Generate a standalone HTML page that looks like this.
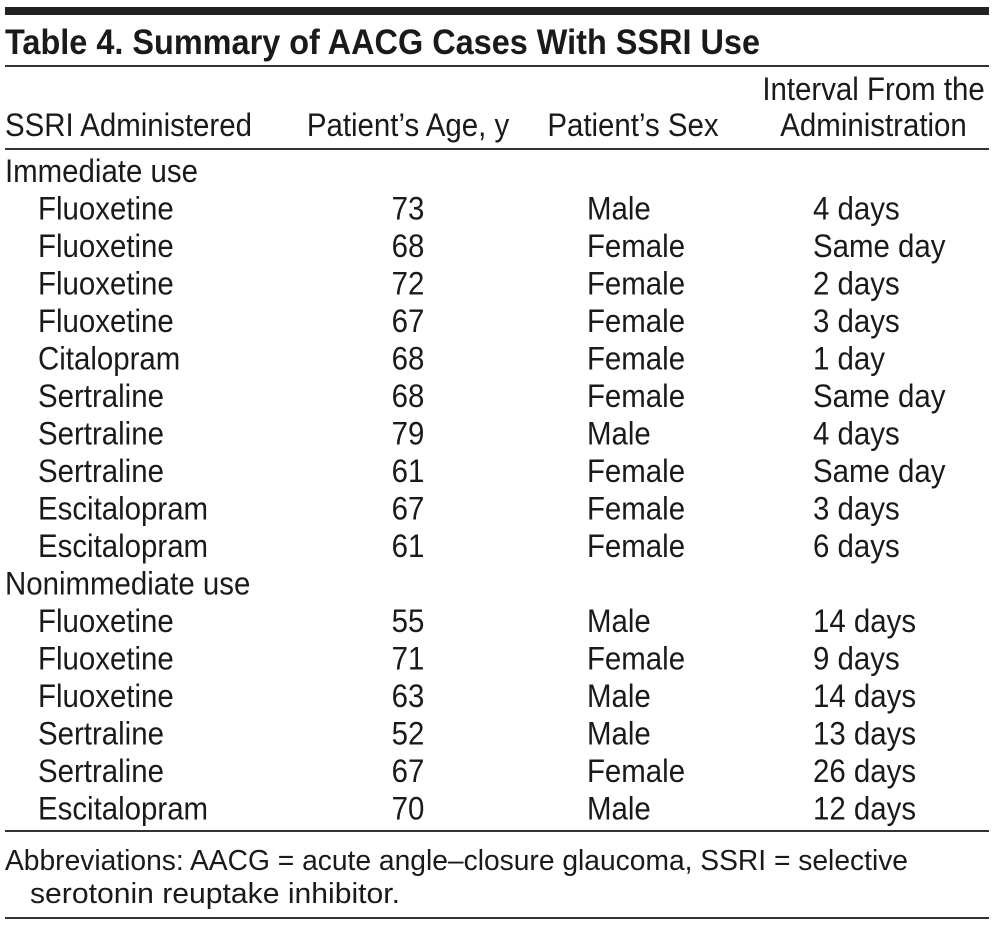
<!DOCTYPE html>
<html><head><meta charset="utf-8"><style>
html,body{margin:0;padding:0;background:#fff;width:994px;height:929px;overflow:hidden}
svg text{font-family:"Liberation Sans",sans-serif;fill:#1a1a1a}
</style></head><body>
<svg width="994" height="929" viewBox="0 0 994 929" xmlns="http://www.w3.org/2000/svg">
<rect x="5" y="7" width="984" height="8" fill="#222"/>
<rect x="5" y="65" width="984" height="2" fill="#333"/>
<rect x="5" y="148" width="984" height="2" fill="#333"/>
<rect x="5" y="830" width="984" height="2" fill="#333"/>
<rect x="5" y="917" width="984" height="2" fill="#333"/>
<text x="5" y="54" font-size="35" font-weight="bold" textLength="755" lengthAdjust="spacingAndGlyphs">Table 4. Summary of AACG Cases With SSRI Use</text>
<g transform="scale(0.92,1)" font-size="32">
<text x="5.4" y="136">SSRI Administered</text>
<text x="443.5" y="136" text-anchor="middle">Patient’s Age, y</text>
<text x="688" y="136" text-anchor="middle">Patient’s Sex</text>
<text x="949.5" y="100" text-anchor="middle">Interval From the</text>
<text x="949.5" y="136" text-anchor="middle">Administration</text>
<text x="5.4" y="182">Immediate use</text>
<text x="5.4" y="594.5">Nonimmediate use</text>
</g>
<g transform="scale(0.92,1)" font-size="32">
<text x="41.3" y="219.5">Fluoxetine</text><text x="443.5" y="219.5" text-anchor="middle">73</text><text x="638" y="219.5">Male</text><text x="883.7" y="219.5">4 days</text>
<text x="41.3" y="257">Fluoxetine</text><text x="443.5" y="257" text-anchor="middle">68</text><text x="638" y="257">Female</text><text x="883.7" y="257">Same day</text>
<text x="41.3" y="294.5">Fluoxetine</text><text x="443.5" y="294.5" text-anchor="middle">72</text><text x="638" y="294.5">Female</text><text x="883.7" y="294.5">2 days</text>
<text x="41.3" y="332">Fluoxetine</text><text x="443.5" y="332" text-anchor="middle">67</text><text x="638" y="332">Female</text><text x="883.7" y="332">3 days</text>
<text x="41.3" y="369.5">Citalopram</text><text x="443.5" y="369.5" text-anchor="middle">68</text><text x="638" y="369.5">Female</text><text x="883.7" y="369.5">1 day</text>
<text x="41.3" y="407">Sertraline</text><text x="443.5" y="407" text-anchor="middle">68</text><text x="638" y="407">Female</text><text x="883.7" y="407">Same day</text>
<text x="41.3" y="444.5">Sertraline</text><text x="443.5" y="444.5" text-anchor="middle">79</text><text x="638" y="444.5">Male</text><text x="883.7" y="444.5">4 days</text>
<text x="41.3" y="482">Sertraline</text><text x="443.5" y="482" text-anchor="middle">61</text><text x="638" y="482">Female</text><text x="883.7" y="482">Same day</text>
<text x="41.3" y="519.5">Escitalopram</text><text x="443.5" y="519.5" text-anchor="middle">67</text><text x="638" y="519.5">Female</text><text x="883.7" y="519.5">3 days</text>
<text x="41.3" y="557">Escitalopram</text><text x="443.5" y="557" text-anchor="middle">61</text><text x="638" y="557">Female</text><text x="883.7" y="557">6 days</text>
<text x="41.3" y="632">Fluoxetine</text><text x="443.5" y="632" text-anchor="middle">55</text><text x="638" y="632">Male</text><text x="883.7" y="632">14 days</text>
<text x="41.3" y="669.5">Fluoxetine</text><text x="443.5" y="669.5" text-anchor="middle">71</text><text x="638" y="669.5">Female</text><text x="883.7" y="669.5">9 days</text>
<text x="41.3" y="707">Fluoxetine</text><text x="443.5" y="707" text-anchor="middle">63</text><text x="638" y="707">Male</text><text x="883.7" y="707">14 days</text>
<text x="41.3" y="744.5">Sertraline</text><text x="443.5" y="744.5" text-anchor="middle">52</text><text x="638" y="744.5">Male</text><text x="883.7" y="744.5">13 days</text>
<text x="41.3" y="782">Sertraline</text><text x="443.5" y="782" text-anchor="middle">67</text><text x="638" y="782">Female</text><text x="883.7" y="782">26 days</text>
<text x="41.3" y="819.5">Escitalopram</text><text x="443.5" y="819.5" text-anchor="middle">70</text><text x="638" y="819.5">Male</text><text x="883.7" y="819.5">12 days</text>
</g>
<text x="5" y="870" font-size="29" textLength="903" lengthAdjust="spacingAndGlyphs">Abbreviations: AACG = acute angle–closure glaucoma, SSRI = selective</text>
<text x="30" y="903" font-size="29" textLength="370" lengthAdjust="spacingAndGlyphs">serotonin reuptake inhibitor.</text>
</svg>
</body></html>
